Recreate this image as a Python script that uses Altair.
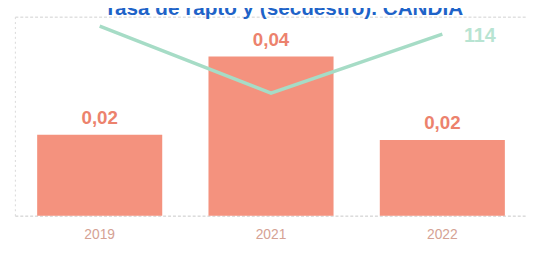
import altair as alt
import pandas as pd

years = ["2019", "2021", "2022"]
rates = [0.0203, 0.0400, 0.0190]
counts = [119, 77, 114]
title_text = "Tasa de rapto y (secuestro). CANDIA"

df = pd.DataFrame({"year": years, "rate": rates, "count": counts})
df["last"] = [False, False, True]

base = alt.Chart(df).encode(
    x=alt.X("year:N", sort=years, title=None,
            scale=alt.Scale(paddingInner=0.27, paddingOuter=0.13),
            axis=alt.Axis(labelAngle=0, labelFont="Liberation Sans", labelFontSize=14,
                          labelColor="#d5a294", labelPadding=12, ticks=False,
                          domainColor="#c8c8c8", domainDash=[3, 2]))
)

ybar = alt.Y("rate:Q", title=None,
             scale=alt.Scale(domain=[0, 0.05]),
             axis=alt.Axis(values=[0.05], labels=False, ticks=False, grid=True,
                           gridColor="#d0d0d0", gridDash=[3, 2], domainColor="#d8d8d8",
                           domainDash=[2, 3]))

bars = base.mark_bar(color="#F4927E").encode(y=ybar)

bar_labels = base.transform_calculate(
    lbl="replace(format(datum.rate, '.2f'), '.', ',')"
).mark_text(baseline="bottom", dy=-7, font="Liberation Sans", fontSize=19,
            fontWeight="bold", color="#EC826D").encode(
    y=alt.Y("rate:Q", scale=alt.Scale(domain=[0, 0.05])), text="lbl:N")

yline = alt.Y("count:Q", title=None, scale=alt.Scale(domain=[0, 125]), axis=None)
line = base.mark_line(color="#A6DCC6", strokeWidth=3.5).encode(y=yline)
line_label = base.transform_filter("datum.last").mark_text(
    align="left", dx=22, dy=2, font="Liberation Sans", fontSize=20, fontWeight="bold",
    color="#B8E4D2"
).encode(y=yline, text="count:Q")

title = alt.Chart(df).transform_filter("datum.last").mark_text(
    align="right", baseline="alphabetic", font="Liberation Sans", fontSize=21,
    fontWeight="bold", color="#1E63C8"
).encode(x=alt.value(455), y=alt.value(-2), text=alt.value(title_text))

left = alt.layer(bars, bar_labels)
right = alt.layer(line, line_label)

chart = alt.layer(left, right, title).resolve_scale(y="independent").properties(
    width=520, height=202,
    autosize=alt.AutoSizeParams(type="none"),
    padding={"left": 7, "top": 7, "right": 9, "bottom": 28},
).configure_view(stroke=None)

chart.save("out.html", embed_options={"renderer": "svg", "actions": False})
